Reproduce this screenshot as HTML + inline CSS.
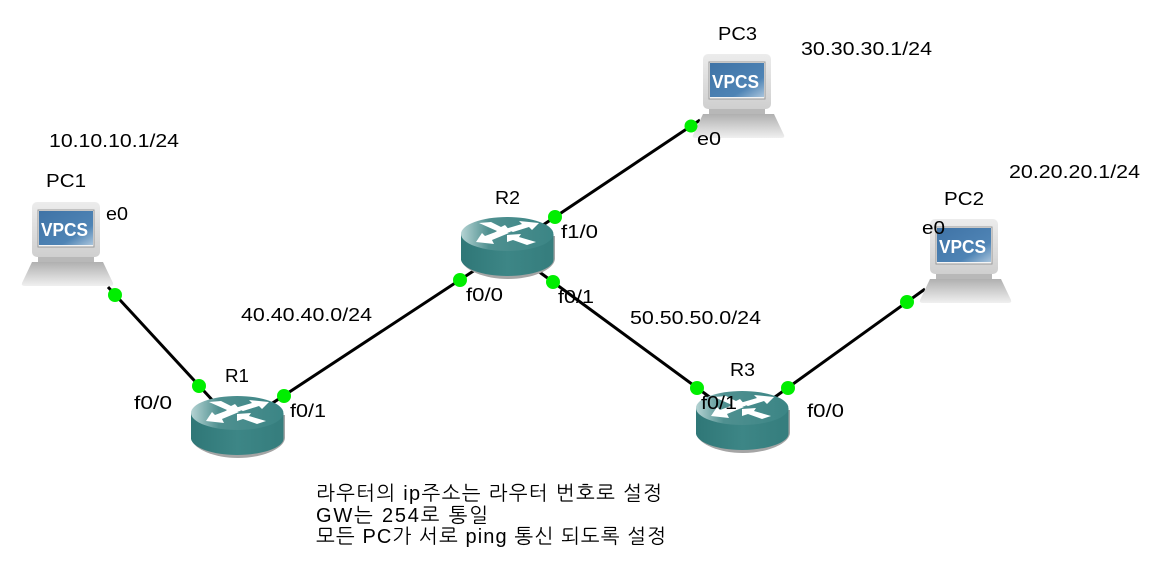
<!DOCTYPE html>
<html><head><meta charset="utf-8">
<style>
html,body{margin:0;padding:0;background:#fff;width:1172px;height:585px;overflow:hidden}
svg{display:block}
text{font-family:"Liberation Sans","NanumGothic",sans-serif;font-size:18px;fill:#000}
.k{font-family:"Liberation Sans","NanumGothic","Noto Sans CJK KR",sans-serif;font-size:20px}
.v{font-family:"Liberation Sans",sans-serif;font-size:18px;font-weight:bold;fill:#fff}
</style></head><body>
<svg width="1172" height="585" viewBox="0 0 1172 585" xmlns="http://www.w3.org/2000/svg">
<defs>
<linearGradient id="mon" x1="0" y1="0" x2="0" y2="1"><stop offset="0" stop-color="#ececec"/><stop offset="1" stop-color="#cfcfcf"/></linearGradient>
<linearGradient id="base" x1="0" y1="0" x2="0" y2="1"><stop offset="0" stop-color="#b0b0b0"/><stop offset="1" stop-color="#f0f0f0"/></linearGradient>
<linearGradient id="scr" x1="0" y1="0" x2="1" y2="1"><stop offset="0" stop-color="#3f73a6"/><stop offset="0.7" stop-color="#4f84b5"/><stop offset="1" stop-color="#a9c4dc"/></linearGradient>
<linearGradient id="top" x1="0" y1="0" x2="1" y2="0"><stop offset="0" stop-color="#b5d3d3"/><stop offset="0.3" stop-color="#4f9090"/><stop offset="1" stop-color="#3b8585"/></linearGradient>
<linearGradient id="side" x1="0" y1="0" x2="1" y2="0"><stop offset="0" stop-color="#2f7777"/><stop offset="0.5" stop-color="#3d8686"/><stop offset="1" stop-color="#357d7d"/></linearGradient>
<g id="pc">
<rect x="16" y="54" width="56" height="8" fill="#b8b8b8"/>
<path d="M10 60 L81 60 L91 81 Q92 84 88 84 L3 84 Q-1 84 0 81 Z" fill="url(#base)"/>
<rect x="10" y="0" width="68" height="55" rx="5" fill="url(#mon)"/>
<rect x="16" y="8" width="56" height="37" fill="#f4f4f4" stroke="#9a9a9a" stroke-width="1"/>
<rect x="17" y="9" width="54" height="34" fill="url(#scr)"/>
</g>
<g id="rt">
<path d="M1 19 L1 44 C3 53 23 62 47 62 C71 62 93 53 94 42 L94 19 Z" fill="#a5a5a5"/>
<path d="M0 17 L0 43 C2 52 22 59 46 59 C70 59 92 52 92.5 43 L92.5 17 Z" fill="url(#side)"/>
<ellipse cx="46.2" cy="17" rx="46.2" ry="17" fill="url(#top)"/>
<path d="M18 6 L30 5 L40 10 L44 8 L50 15 L32 17 L36 14 Z" fill="#fff"/>
<path d="M78 6 L58 4 L61 7 L44 12 L52 15 L68 10 L71 13 Z" fill="#fff"/>
<path d="M15 25 L33 27 L31 23 L48 16 L40 13 L24 19 L21 16 Z" fill="#fff"/>
<path d="M46 18 L60 17 L58 20 L75 25 L66 28 L52 23 L46 25 Z" fill="#fff"/>
</g>
</defs>

<g stroke="#000" stroke-width="3" fill="none">
<line x1="108" y1="287" x2="215" y2="403"/>
<line x1="265" y1="408" x2="478" y2="268"/>
<line x1="540" y1="227" x2="700" y2="120"/>
<line x1="538" y1="271" x2="715" y2="401"/>
<line x1="768" y1="402" x2="925" y2="289"/>
</g>

<use href="#pc" x="22" y="202"/>
<use href="#pc" x="693" y="54"/>
<use href="#pc" x="920" y="219"/>
<text class="v" x="41" y="236" textLength="47" lengthAdjust="spacingAndGlyphs">VPCS</text>
<text class="v" x="712" y="88" textLength="47" lengthAdjust="spacingAndGlyphs">VPCS</text>
<text class="v" x="939" y="253" textLength="47" lengthAdjust="spacingAndGlyphs">VPCS</text>

<use href="#rt" x="191" y="396"/>
<use href="#rt" x="461" y="217"/>
<use href="#rt" x="696" y="391"/>

<g fill="#00ee00">
<circle cx="115" cy="295" r="7"/>
<circle cx="199" cy="386" r="7"/>
<circle cx="284" cy="396" r="7"/>
<circle cx="460" cy="280" r="7"/>
<circle cx="555" cy="217" r="7"/>
<circle cx="553" cy="282" r="7"/>
<circle cx="691" cy="126" r="6.5"/>
<circle cx="697" cy="388" r="7"/>
<circle cx="788" cy="388" r="7"/>
<circle cx="907" cy="302" r="7"/>
</g>

<text x="46" y="187" textLength="40" lengthAdjust="spacingAndGlyphs">PC1</text>
<text x="718" y="40" textLength="39" lengthAdjust="spacingAndGlyphs">PC3</text>
<text x="944" y="205" textLength="40" lengthAdjust="spacingAndGlyphs">PC2</text>
<text x="225" y="382" textLength="24" lengthAdjust="spacingAndGlyphs">R1</text>
<text x="495" y="204" textLength="25" lengthAdjust="spacingAndGlyphs">R2</text>
<text x="730" y="376" textLength="25" lengthAdjust="spacingAndGlyphs">R3</text>
<text x="106" y="220" textLength="22" lengthAdjust="spacingAndGlyphs">e0</text>
<text x="697" y="145" textLength="24" lengthAdjust="spacingAndGlyphs">e0</text>
<text x="922" y="234" textLength="23" lengthAdjust="spacingAndGlyphs">e0</text>
<text x="134" y="409" textLength="38" lengthAdjust="spacingAndGlyphs">f0/0</text>
<text x="290" y="417" textLength="36" lengthAdjust="spacingAndGlyphs">f0/1</text>
<text x="466" y="301" textLength="37" lengthAdjust="spacingAndGlyphs">f0/0</text>
<text x="558" y="303" textLength="36" lengthAdjust="spacingAndGlyphs">f0/1</text>
<text x="561" y="238" textLength="37" lengthAdjust="spacingAndGlyphs">f1/0</text>
<text x="701" y="409" textLength="36" lengthAdjust="spacingAndGlyphs">f0/1</text>
<text x="807" y="417" textLength="37" lengthAdjust="spacingAndGlyphs">f0/0</text>
<text x="49" y="147" textLength="130" lengthAdjust="spacingAndGlyphs">10.10.10.1/24</text>
<text x="801" y="55" textLength="131" lengthAdjust="spacingAndGlyphs">30.30.30.1/24</text>
<text x="1009" y="178" textLength="131" lengthAdjust="spacingAndGlyphs">20.20.20.1/24</text>
<text x="241" y="321" textLength="131" lengthAdjust="spacingAndGlyphs">40.40.40.0/24</text>
<text x="630" y="324" textLength="131" lengthAdjust="spacingAndGlyphs">50.50.50.0/24</text>
<text class="k" x="316" y="500" textLength="346" lengthAdjust="spacing">라우터의 ip주소는 라우터 번호로 설정</text>
<text class="k" x="316" y="522" textLength="172" lengthAdjust="spacing">GW는 254로 통일</text>
<text class="k" x="316" y="543" textLength="350" lengthAdjust="spacing">모든 PC가 서로 ping 통신 되도록 설정</text>
</svg>
</body></html>
